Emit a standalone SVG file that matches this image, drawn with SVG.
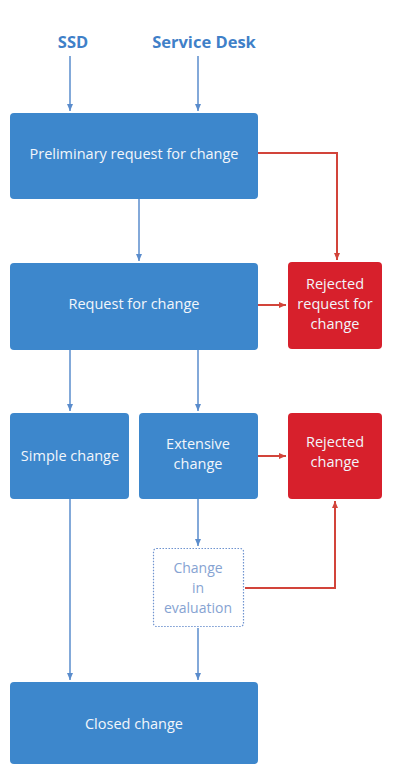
<svg xmlns="http://www.w3.org/2000/svg" width="394" height="764" viewBox="0 0 394 764">
<style>
.b{fill:#3d87cc}
.r{fill:#d7202c}
.t{font-family:"Open Sans","Noto Sans",sans-serif;font-size:14.5px;fill:#f2f6fb;text-anchor:middle;dominant-baseline:middle}
.h{font-family:"Open Sans","Noto Sans",sans-serif;font-size:16.5px;font-weight:bold;fill:#3f80c8;text-anchor:middle}
.e{font-family:"Open Sans","Noto Sans",sans-serif;font-size:14px;fill:#86a3d2;text-anchor:middle;dominant-baseline:middle}
.cb{stroke:#5a8ccc;stroke-width:1.5;fill:none}
.cr{stroke:#d2443a;stroke-width:2;fill:none}
</style>
<defs>
<marker id="ab" markerWidth="8" markerHeight="6" refX="7" refY="3" orient="auto" markerUnits="userSpaceOnUse"><path d="M0,0 L7,3 L0,6 z" fill="#5a8ccc"/></marker>
<marker id="ar" markerWidth="8" markerHeight="6" refX="7" refY="3" orient="auto" markerUnits="userSpaceOnUse"><path d="M0,0 L7,3 L0,6 z" fill="#d2443a"/></marker>
</defs>
<rect width="394" height="764" fill="#ffffff"/>
<g id="labels">
<text class="h" x="73" y="48">SSD</text>
<text class="h" x="204" y="48">Service Desk</text>
</g>
<g id="connectors">
<line class="cb" x1="70" y1="56" x2="70" y2="111" marker-end="url(#ab)"/>
<line class="cb" x1="198" y1="56" x2="198" y2="111" marker-end="url(#ab)"/>
<line class="cb" x1="139" y1="199" x2="139" y2="261" marker-end="url(#ab)"/>
<polyline class="cr" points="258,153 337,153 337,260" marker-end="url(#ar)"/>
<line class="cr" x1="258" y1="305" x2="286" y2="305" marker-end="url(#ar)"/>
<line class="cb" x1="70" y1="350" x2="70" y2="411" marker-end="url(#ab)"/>
<line class="cb" x1="198" y1="350" x2="198" y2="411" marker-end="url(#ab)"/>
<line class="cr" x1="258" y1="456" x2="286" y2="456" marker-end="url(#ar)"/>
<line class="cb" x1="198" y1="499" x2="198" y2="546" marker-end="url(#ab)"/>
<polyline class="cr" points="245,588 335,588 335,501" marker-end="url(#ar)"/>
<line class="cb" x1="198" y1="628" x2="198" y2="680" marker-end="url(#ab)"/>
<line class="cb" x1="70" y1="499" x2="70" y2="680" marker-end="url(#ab)"/>
</g>
<g id="preliminary">
<rect class="b" x="10" y="113" width="248" height="86" rx="4"/>
<text class="t" x="134" y="155">Preliminary request for change</text>
</g>
<g id="rfc">
<rect class="b" x="10" y="263" width="248" height="87" rx="4"/>
<text class="t" x="134" y="305">Request for change</text>
</g>
<g id="rejected-rfc">
<rect class="r" x="288" y="262" width="94" height="87" rx="4"/>
<text class="t" x="335" y="285">Rejected</text>
<text class="t" x="335" y="305">request for</text>
<text class="t" x="335" y="325">change</text>
</g>
<g id="simple">
<rect class="b" x="10" y="413" width="119" height="86" rx="4"/>
<text class="t" x="70" y="457">Simple change</text>
</g>
<g id="extensive">
<rect class="b" x="139" y="413" width="119" height="86" rx="4"/>
<text class="t" x="198" y="445">Extensive</text>
<text class="t" x="198" y="465">change</text>
</g>
<g id="rejected-change">
<rect class="r" x="288" y="413" width="94" height="86" rx="4"/>
<text class="t" x="335" y="443">Rejected</text>
<text class="t" x="335" y="463">change</text>
</g>
<g id="evaluation">
<rect x="153.5" y="548.5" width="90" height="78" rx="3" fill="#ffffff" stroke="#6f93cf" stroke-width="1.2" stroke-dasharray="1.5,1.5"/>
<text class="e" x="198" y="569">Change</text>
<text class="e" x="198" y="589">in</text>
<text class="e" x="198" y="609">evaluation</text>
</g>
<g id="closed">
<rect class="b" x="10" y="682" width="248" height="82" rx="4"/>
<text class="t" x="134" y="725">Closed change</text>
</g>
</svg>
